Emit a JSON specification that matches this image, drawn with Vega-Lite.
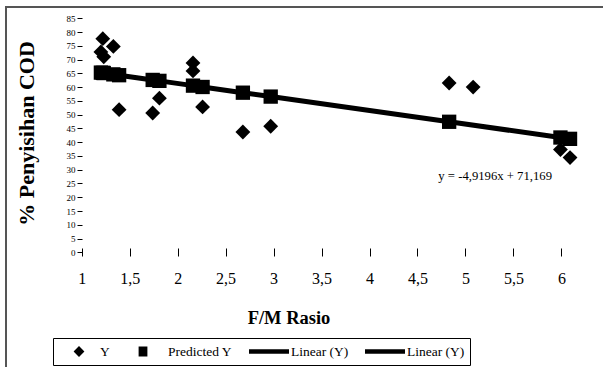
{
  "$schema": "https://vega.github.io/schema/vega-lite/v6.json",
  "width": 620,
  "height": 380,
  "autosize": {"type": "none"},
  "padding": {"left": 6, "top": 7, "right": -23, "bottom": -20},
  "background": "white",
  "config": {
    "view": {"stroke": "#555555", "strokeWidth": 2},
    "font": "Liberation Serif",
    "axis": {"grid": false}
  },
  "data": {
    "values": [
      {"fm": 1.20, "cod": 72.8, "seri": "Y"},
      {"fm": 1.22, "cod": 77.6, "seri": "Y"},
      {"fm": 1.23, "cod": 71.0, "seri": "Y"},
      {"fm": 1.33, "cod": 74.8, "seri": "Y"},
      {"fm": 1.39, "cod": 51.8, "seri": "Y"},
      {"fm": 1.74, "cod": 50.6, "seri": "Y"},
      {"fm": 1.81, "cod": 56.0, "seri": "Y"},
      {"fm": 2.16, "cod": 68.8, "seri": "Y"},
      {"fm": 2.16, "cod": 65.9, "seri": "Y"},
      {"fm": 2.26, "cod": 52.8, "seri": "Y"},
      {"fm": 2.68, "cod": 43.7, "seri": "Y"},
      {"fm": 2.97, "cod": 45.8, "seri": "Y"},
      {"fm": 4.83, "cod": 61.5, "seri": "Y"},
      {"fm": 5.08, "cod": 60.0, "seri": "Y"},
      {"fm": 5.99, "cod": 37.3, "seri": "Y"},
      {"fm": 6.09, "cod": 34.4, "seri": "Y"},
      {"fm": 1.20, "cod": 65.27, "seri": "Predicted Y"},
      {"fm": 1.22, "cod": 65.17, "seri": "Predicted Y"},
      {"fm": 1.23, "cod": 65.12, "seri": "Predicted Y"},
      {"fm": 1.33, "cod": 64.63, "seri": "Predicted Y"},
      {"fm": 1.39, "cod": 64.33, "seri": "Predicted Y"},
      {"fm": 1.74, "cod": 62.61, "seri": "Predicted Y"},
      {"fm": 1.81, "cod": 62.27, "seri": "Predicted Y"},
      {"fm": 2.16, "cod": 60.54, "seri": "Predicted Y"},
      {"fm": 2.26, "cod": 60.05, "seri": "Predicted Y"},
      {"fm": 2.68, "cod": 57.98, "seri": "Predicted Y"},
      {"fm": 2.97, "cod": 56.56, "seri": "Predicted Y"},
      {"fm": 4.83, "cod": 47.41, "seri": "Predicted Y"},
      {"fm": 5.99, "cod": 41.70, "seri": "Predicted Y"},
      {"fm": 6.09, "cod": 41.21, "seri": "Predicted Y"}
    ]
  },
  "encoding": {
    "x": {
      "field": "fm",
      "type": "quantitative",
      "scale": {"domain": [0.211, 6.6733], "nice": false, "zero": false},
      "axis": {
        "values": [1, 1.5, 2, 2.5, 3, 3.5, 4, 4.5, 5, 5.5, 6],
        "domain": false,
        "offset": -139,
        "tickSize": 8,
        "tickColor": "black",
        "tickWidth": 1,
        "labelFont": "Liberation Serif",
        "labelFontSize": 16,
        "labelColor": "black",
        "labelPadding": 14,
        "labelFlush": false,
        "labelOverlap": false,
        "labelExpr": "replace(format(datum.value, '~g'), '.', ',')",
        "title": "F/M Rasio",
        "titleFont": "Liberation Serif",
        "titleFontSize": 18.5,
        "titleFontWeight": "bold",
        "titleColor": "black",
        "titleX": 282.5,
        "titleY": 75,
        "titleBaseline": "alphabetic",
        "titleAlign": "center"
      }
    },
    "y": {
      "field": "cod",
      "type": "quantitative",
      "scale": {"domain": [-48.929, 89.103], "nice": false, "zero": false},
      "axis": {
        "values": [0, 5, 10, 15, 20, 25, 30, 35, 40, 45, 50, 55, 60, 65, 70, 75, 80, 85],
        "domain": false,
        "offset": -76,
        "tickSize": 5,
        "tickColor": "black",
        "tickWidth": 1,
        "labelFont": "Liberation Serif",
        "labelFontSize": 9,
        "labelColor": "black",
        "labelPadding": 2,
        "labelOverlap": false,
        "labelFlush": false,
        "title": "% Penyisihan COD",
        "titleFont": "Liberation Serif",
        "titleFontSize": 22,
        "titleFontWeight": "bold",
        "titleColor": "black",
        "titleX": -49,
        "titleY": 126,
        "titleAngle": 270,
        "titleBaseline": "alphabetic",
        "titleAlign": "center"
      }
    }
  },
  "layer": [
    {
      "data": {"values": [{}]},
      "mark": {"type": "rule", "color": "black", "strokeWidth": 1},
      "encoding": {
        "x": {"datum": 1, "type": "quantitative"},
        "x2": {"datum": 6.246},
        "y": {"datum": 0, "type": "quantitative"}
      }
    },
    {
      "data": {"values": [{}]},
      "mark": {"type": "rule", "color": "black", "strokeWidth": 1},
      "encoding": {
        "x": {"datum": 1, "type": "quantitative"},
        "y": {"datum": 0, "type": "quantitative"},
        "y2": {"datum": 85}
      }
    },
    {
      "transform": [{"filter": "datum.seri === 'Predicted Y'"}],
      "mark": {"type": "line", "color": "black", "strokeWidth": 5},
      "encoding": {}
    },
    {
      "transform": [{"filter": "datum.seri === 'Y'"}],
      "mark": {"type": "point", "shape": "diamond", "filled": true, "color": "black", "opacity": 1, "size": 220, "strokeWidth": 0}
    },
    {
      "transform": [{"filter": "datum.seri === 'Predicted Y'"}],
      "mark": {"type": "point", "shape": "square", "filled": true, "color": "black", "opacity": 1, "size": 205, "strokeWidth": 0}
    },
    {
      "transform": [{"filter": "datum.seri === 'legenda'"}],
      "mark": {"type": "point", "filled": true, "color": "black", "size": 1600, "strokeWidth": 0},
      "encoding": {
        "shape": {
          "field": "seri",
          "type": "nominal",
          "scale": {
            "domain": ["Y", "Predicted Y", "Linear (Y)", "Linear (Y) 2"],
            "range": [
              "M0.05,-0.28L0.32,0L0.05,0.28L-0.22,0Z",
              "M-0.37,-0.25H0.07V0.25H-0.37Z",
              "M-1,-0.11H1V0.11H-1Z",
              "M-1,-0.11H1V0.11H-1Z"
            ]
          },
          "legend": {
            "orient": "none",
            "legendX": 47,
            "legendY": 331,
            "direction": "horizontal",
            "title": null,
            "symbolSize": 1600,
            "clipHeight": 17,
            "labelFont": "Liberation Serif",
            "labelFontSize": 13.5,
            "labelColor": "black",
            "labelOffset": 2,
            "labelLimit": 200,
            "columnPadding": 16,
            "padding": 5,
            "strokeColor": "black",
            "fillColor": "white",
            "cornerRadius": 0,
            "symbolStrokeWidth": 0,
            "symbolFillColor": "black",
            "symbolOpacity": 1,
            "labelExpr": "datum.label === 'Linear (Y) 2' ? 'Linear (Y)' : datum.label"
          }
        }
      }
    },
    {
      "transform": [{"filter": "datum.seri === 'Predicted Y' && datum.fm === 4.83"}],
      "mark": {"type": "text", "fontSize": 12.7, "color": "black", "align": "center", "baseline": "alphabetic", "dx": 46, "dy": 58},
      "encoding": {
        "text": {"value": "y = -4,9196x + 71,169"}
      }
    }
  ]
}
